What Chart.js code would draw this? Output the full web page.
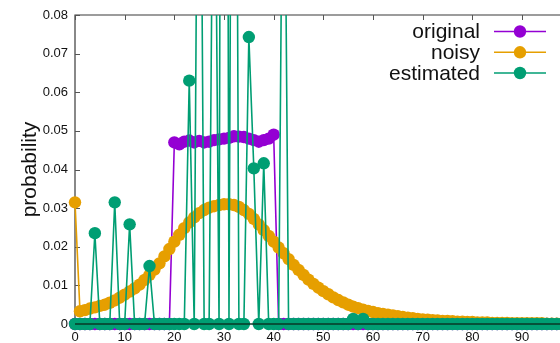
<!DOCTYPE html>
<html><head><meta charset="utf-8">
<script src="https://cdn.jsdelivr.net/npm/chart.js@4/dist/chart.umd.min.js"></script>
<style>
html,body{margin:0;padding:0;background:#fff;overflow:hidden;width:560px;height:343px}
#wrap{width:580px;height:343px;position:relative}
</style>
</head><body>
<div id="wrap"><canvas id="c" width="580" height="343"></canvas></div>
<script>
// x categories 0..100
const xValues = [0,1,2,3,4,5,6,7,8,9,10,11,12,13,14,15,16,17,18,19,20,21,22,23,24,25,26,27,28,29,30,
31,32,33,34,35,36,37,38,39,40,41,42,43,44,45,46,47,48,49,50,51,52,53,54,55,56,57,58,59,60,
61,62,63,64,65,66,67,68,69,70,71,72,73,74,75,76,77,78,79,80,81,82,83,84,85,86,87,88,89,90,
91,92,93,94,95,96,97,98,99,100];

const seriesLabels = ['original', 'noisy', 'estimated'];

const originalValues = [
0,0,0,0,0,0,0,0,0,0, 0,0,0,0,0,0,0,0,0,0,
0.0470,0.0465,0.0472,0.0475,0.0470,0.0474,0.0470,0.0472,0.0476,0.0478,
0.0480,0.0482,0.0486,0.0485,0.0484,0.0480,0.0476,0.0472,0.0476,0.0480,0.0490,
0,0,0,0,0,0,0,0,0, 0,0,0,0,0,0,0,0,0,0,
0,0,0,0,0,0,0,0,0,0, 0,0,0,0,0,0,0,0,0,0,
0,0,0,0,0,0,0,0,0,0, 0,0,0,0,0,0,0,0,0,0, 0];

const noisyValues = [
0.0315,0.0033,0.0036,0.0040,0.0043,0.0047,0.0050,0.0055,0.0061,0.0068,
0.0076,0.0084,0.0092,0.0102,0.0114,0.0127,0.0141,0.0157,0.0175,0.0194,
0.0213,0.0231,0.0248,0.0263,0.0276,0.0287,0.0295,0.0301,0.0305,0.0308,
0.0310,0.0310,0.0308,0.0303,0.0295,0.0285,0.0272,0.0258,0.0243,0.0228,
0.0213,0.0198,0.0183,0.0168,0.0153,0.0140,0.0127,0.0115,0.0104,0.0094,
0.0085,0.0077,0.0069,0.0062,0.0056,0.0050,0.0045,0.0041,0.0037,0.0034,
0.0031,0.0028,0.0026,0.0024,0.0022,0.0020,0.0018,0.0016,0.0015,0.0013,
0.0012,0.0011,0.0010,0.0009,0.0008,0.0008,0.0007,0.0006,0.0006,0.0005,
0.0005,0.0004,0.0004,0.0004,0.0003,0.0003,0.0003,0.0003,0.0002,0.0002,
0.0002,0.0002,0.0002,0.0002,0.0002,0.0001,0.0001,0.0001,0.0001,0.0001,0.0001];

const estimatedValues = [
0,0,0,0,0.0235,0,0,0,0.0315,0,
0,0.0258,0,0,0,0.0150,0,0,0,0,
0,0,0,0.0630,0,0.2000,0,0,0.1600,0,
0.5000,0,0.3000,0,0,0.0743,0.0403,0,0.0416,0,
0,0,0.1600,0,0,0,0,0,0,0,
0,0,0,0,0,0,0.0013,0,0.0013,0,
0,0,0,0,0,0,0,0,0,0,
0,0,0,0,0,0,0,0,0,0,
0,0,0,0,0,0,0,0,0,0,
0,0,0,0,0,0,0,0,0,0,0];

const yTickValues = [0,0.01,0.02,0.03,0.04,0.05,0.06,0.07,0.08];
const xTickValues = [0,10,20,30,40,50,60,70,80,90,100];

const colors = ['#9400d3', '#e69f00', '#009e73'];
const seriesValues = [originalValues, noisyValues, estimatedValues];

const FONT = "'Liberation Sans', Arial, Helvetica, sans-serif";

function makeDataset(i) {
  return {
    label: seriesLabels[i],
    data: xValues.map((x, k) => ({x: x, y: seriesValues[i][k]})),
    borderColor: colors[i],
    backgroundColor: colors[i],
    pointBackgroundColor: colors[i],
    pointBorderWidth: 0,
    pointRadius: 6.2,
    borderWidth: 1.6,
    tension: 0,
    order: 3 - i,
    clip: {left: 12, top: 0, right: 12, bottom: 12}
  };
}

const framePlugin = {
  id: 'frame',
  beforeDatasetsDraw(chart) {
    const {ctx, chartArea: a, scales: {x, y}} = chart;
    ctx.save();
    ctx.strokeStyle = '#3a3a3a';
    ctx.lineWidth = 1.2;
    ctx.beginPath();
    ctx.moveTo(a.left, a.bottom); ctx.lineTo(a.left, a.top); ctx.lineTo(a.right, a.top);
    ctx.stroke();
    ctx.strokeStyle = '#555';
    ctx.lineWidth = 1;
    ctx.beginPath();
    yTickValues.forEach(v => { const py = Math.round(y.getPixelForValue(v)) + 0.5; ctx.moveTo(a.left, py); ctx.lineTo(a.left + 5, py); });
    xTickValues.forEach(v => { const px = Math.round(x.getPixelForValue(v)) + 0.5; ctx.moveTo(px, a.top); ctx.lineTo(px, a.top + 5); });
    ctx.stroke();
    ctx.restore();
  },
  afterDatasetsDraw(chart) {
    const {ctx, chartArea: a} = chart;
    ctx.save();
    ctx.strokeStyle = 'rgba(10,50,35,0.95)';
    ctx.lineWidth = 1.5;
    ctx.beginPath();
    ctx.moveTo(a.left, a.bottom); ctx.lineTo(a.right + 10, a.bottom);
    ctx.stroke();
    // legend
    const ds = chart.data.datasets;
    const rows = [31.5, 52.3, 73];
    ctx.font = '21px ' + FONT;
    ctx.textAlign = 'right';
    ctx.textBaseline = 'middle';
    ds.forEach((d, i) => {
      const ry = rows[i];
      ctx.fillStyle = '#111';
      ctx.fillText(d.label, 480, ry + 1);
      ctx.strokeStyle = d.borderColor;
      ctx.lineWidth = 1.6;
      ctx.beginPath(); ctx.moveTo(494, ry); ctx.lineTo(546, ry); ctx.stroke();
      ctx.fillStyle = d.borderColor;
      ctx.beginPath(); ctx.arc(520, ry, 6.2, 0, Math.PI * 2); ctx.fill();
    });
    ctx.restore();
  }
};

new Chart(document.getElementById('c'), {
  type: 'line',
  data: { datasets: [0, 1, 2].map(makeDataset) },
  options: {
    responsive: false,
    animation: false,
    devicePixelRatio: 1,
    layout: { padding: { left: 0, top: 15, right: 8.3, bottom: 0 } },
    plugins: { legend: { display: false }, tooltip: { enabled: false } },
    scales: {
      x: {
        type: 'linear', min: 0, max: 100,
        afterFit(s) { s.height = 19; },
        afterBuildTicks(s) { s.ticks = xTickValues.filter(v => v < 100).map(v => ({value: v})); },
        grid: { display: false, drawTicks: false },
        border: { display: false },
        ticks: { color: '#111', font: { family: FONT, size: 13 }, padding: 6, maxRotation: 0, autoSkip: false }
      },
      y: {
        type: 'linear', min: 0, max: 0.08,
        afterFit(s) { s.width = 75; },
        afterBuildTicks(s) { s.ticks = yTickValues.map(v => ({value: v})); },
        grid: { display: false, drawTicks: false },
        border: { display: false },
        title: { display: true, text: 'probability', color: '#111', font: { family: FONT, size: 21 }, padding: { top: 18, bottom: 0 } },
        ticks: { color: '#111', font: { family: FONT, size: 13 }, padding: 7,
          callback: v => String(Math.round(v * 100) / 100) }
      }
    }
  },
  plugins: [framePlugin]
});
</script>
</body></html>
